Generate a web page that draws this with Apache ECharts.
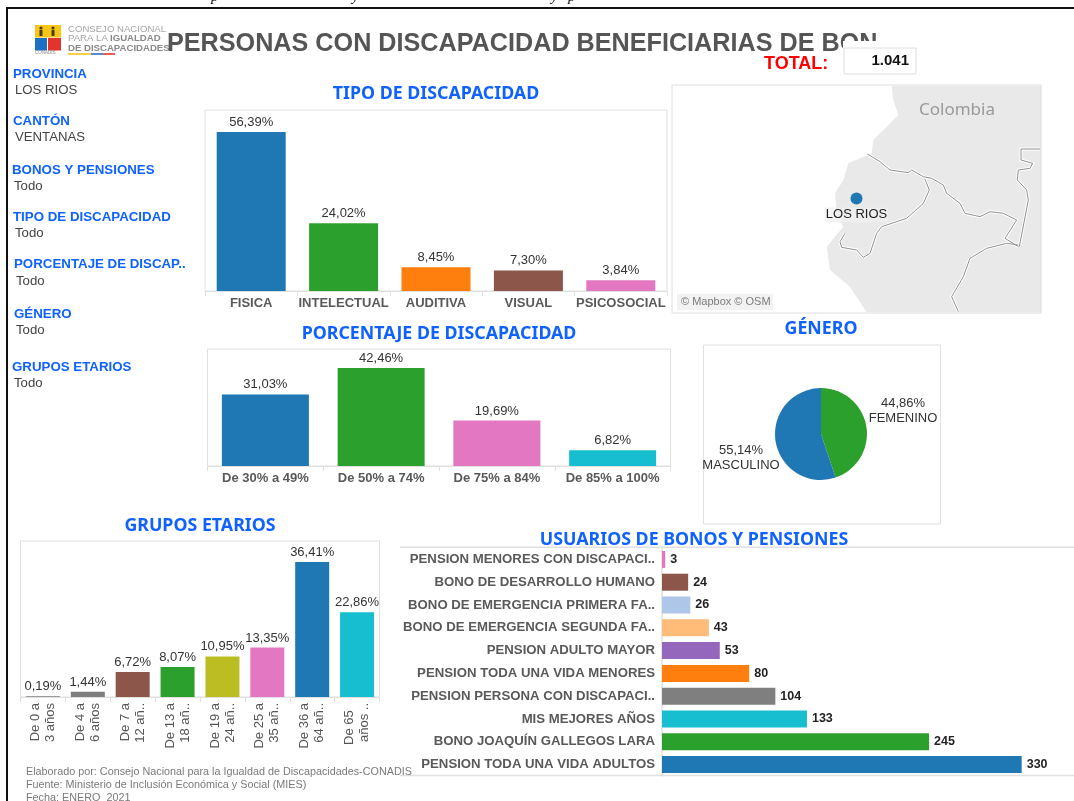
<!DOCTYPE html>
<html>
<head>
<meta charset="utf-8">
<style>html,body{margin:0;padding:0;background:#fff}#c{width:1074px;height:801px}</style>
<script src="https://cdn.jsdelivr.net/npm/echarts@6/dist/echarts.min.js"></script>
</head>
<body>
<div id="c"></div>
<script>
// ---------- data ----------
const tipoCategories = ['FISICA','INTELECTUAL','AUDITIVA','VISUAL','PSICOSOCIAL'];
const tipoValues = [56.39,24.02,8.45,7.30,3.84];
const porcentajeCategories = ['De 30% a 49%','De 50% a 74%','De 75% a 84%','De 85% a 100%'];
const porcentajeValues = [31.03,42.46,19.69,6.82];
const etariosCategories = ['De 0 a|3 años','De 4 a|6 años','De 7 a|12 añ..','De 13 a|18 añ..','De 19 a|24 añ..','De 25 a|35 añ..','De 36 a|64 añ..','De 65|años ..'];
const etariosValues = [0.19,1.44,6.72,8.07,10.95,13.35,36.41,22.86];
const bonosCategories = ['PENSION MENORES CON DISCAPACI..','BONO DE DESARROLLO HUMANO','BONO DE EMERGENCIA PRIMERA FA..','BONO DE EMERGENCIA SEGUNDA FA..','PENSION ADULTO MAYOR','PENSION TODA UNA VIDA MENORES','PENSION PERSONA CON DISCAPACI..','MIS MEJORES AÑOS','BONO JOAQUÍN GALLEGOS LARA','PENSION TODA UNA VIDA ADULTOS'];
const bonosValues = [3,24,26,43,53,80,104,133,245,330];
const generoNames = ['FEMENINO','MASCULINO'];
const generoValues = [44.86,55.14];
const mapPointName = 'LOS RIOS';
const mapPointLonLat = [-79.4,-1.6];
const filterTitles = ['PROVINCIA','CANTÓN','BONOS Y PENSIONES','TIPO DE DISCAPACIDAD','PORCENTAJE DE DISCAP..','GÉNERO','GRUPOS ETARIOS'];
const filterValues = ['LOS RIOS','VENTANAS','Todo','Todo','Todo','Todo','Todo'];
const totalLabel = '1.041';

// ---------- styles ----------
const BLUE='#1f77b4',GREEN='#2ca02c',ORANGE='#ff7f0e',BROWN='#8c564b',PINK='#e377c2',CYAN='#17becf',OLIVE='#bcbd22',GRAY='#7f7f7f',LBLUE='#aec7e8',LORANGE='#ffbb78',PURPLE='#9467bd';
const tipoColors=[BLUE,GREEN,ORANGE,BROWN,PINK];
const porcentajeColors=[BLUE,GREEN,PINK,CYAN];
const etariosColors=[GRAY,GRAY,BROWN,GREEN,OLIVE,PINK,BLUE,CYAN];
const bonosColors=[PINK,BROWN,LBLUE,LORANGE,PURPLE,ORANGE,GRAY,CYAN,GREEN,BLUE];
const generoColors=[GREEN,BLUE];
const SANS='"Liberation Sans",Arial,sans-serif';
const HEAD='"Noto Sans",sans-serif';
const TITLEBLUE='#0f62fe';
const LINE='#e0e0e0';
const pct=v=>v.toFixed(2).replace('.',',')+'%';

const grids=[
 {left:205,top:110,width:462,height:181,show:true,borderColor:LINE,borderWidth:1,backgroundColor:'transparent'},
 {left:207.5,top:349,width:463,height:117,show:true,borderColor:LINE,borderWidth:1},
 {left:20.5,top:541,width:359,height:156,show:true,borderColor:LINE,borderWidth:1},
 {left:662,top:548,width:412,height:228},
 {left:672,top:85,width:369,height:228}
];
function vbar(i,cats,vals,cols,max,barW,axisLabel){
 return {
  x:{type:'category',gridIndex:i,data:cats,axisLine:{lineStyle:{color:LINE}},axisTick:{show:true,length:5,lineStyle:{color:LINE}},axisLabel:Object.assign({interval:0,fontFamily:SANS},axisLabel)},
  y:{type:'value',gridIndex:i,min:0,max:max,show:false},
  s:{type:'bar',xAxisIndex:i,yAxisIndex:i,barWidth:barW,data:vals.map((v,k)=>({value:v,itemStyle:{color:cols[k]}})),
     label:{show:true,position:'top',distance:3,fontFamily:SANS,fontSize:13,color:'#333',formatter:p=>pct(p.value)},silent:true}
 };
}
const c1=vbar(0,tipoCategories,tipoValues,tipoColors,64.2,69,{fontSize:13,fontWeight:'bold',color:'#595959',margin:6});
const c2=vbar(1,porcentajeCategories,porcentajeValues,porcentajeColors,50.7,87,{fontSize:13,fontWeight:'bold',color:'#595959',margin:6});
const c3=vbar(2,etariosCategories,etariosValues,etariosColors,42.05,34,{fontSize:13,color:'#555',rotate:90,margin:6,lineHeight:15,
  formatter:s=>{const a=s.split('|');return (a[0]==='De 65'?a[0]+'\u00a0\u00a0':a[0])+'\n'+a[1];}});

const titles=[
 ['TIPO DE DISCAPACIDAD',436,93.5],['PORCENTAJE DE DISCAPACIDAD',439,333.5],['GÉNERO',821,328.5],['GRUPOS ETARIOS',200,525.5],['USUARIOS DE BONOS Y PENSIONES',694,539.5]
].map(t=>({text:t[0],left:t[1],top:t[2]-12,padding:0,textAlign:'center',textStyle:{fontFamily:HEAD,fontSize:17.8,fontWeight:'bold',color:TITLEBLUE,lineHeight:24}}));

const txt=(x,y,text,o)=>({type:'text',x:x,y:y,silent:true,style:Object.assign({text:text,fontFamily:SANS,fontSize:13,fill:'#444',textVerticalAlign:'middle',verticalAlign:'middle'},o||{})});
const rect=(x,y,w,h,fill,stroke)=>({type:'rect',silent:true,shape:{x:x,y:y,width:w,height:h},style:{fill:fill||'none',stroke:stroke||null,lineWidth:1}});
const line=(x1,y1,x2,y2,c,w)=>({type:'line',silent:true,shape:{x1:x1,y1:y1,x2:x2,y2:y2},style:{stroke:c,lineWidth:w}});
// map artwork (background only), traced in zoomed reference pixels
const mp=a=>a.map(p=>[660+p[0]/3,p[1]/3]);
const land=mp([[695,258],[700,300],[715,345],[680,380],[640,420],[635,460],[565,490],[550,540],[525,580],[530,640],[550,680],[500,740],[510,810],[570,860],[620,937],[1143,937],[1143,258]]);
const borders=[
 [[622,462],[660,485],[690,510],[745,518],[755,510],[790,530],[815,535],[850,555],[860,580],[900,610],[915,640],[960,650],[990,635],[1030,640],[1070,660],[1035,715],[1075,740]],
 [[795,538],[808,570],[790,610],[740,655],[665,680],[650,700],[630,760],[610,772],[590,750],[545,742],[540,725],[555,700]],
 [[1141,447],[1083,447],[1083,480],[1118,490],[1110,505],[1075,510],[1072,540],[1100,570],[1105,600],[1078,740]],
 [[1075,735],[1040,730],[980,745],[930,775],[910,830],[875,890],[895,935]]
].map(mp);
const filterY=[[13,74,15,90],[13,121,15,137],[12,170,14,186],[13,217,15,233],[14,264,16,281],[14,314,16,330],[12,367,14,383]];
const filters=[];
filterTitles.forEach((t,i)=>{const p=filterY[i];
 filters.push(txt(p[0],p[1],t,{fontWeight:'bold',fontSize:13.3,fill:TITLEBLUE}));
 filters.push(txt(p[2],p[3],filterValues[i],{fontSize:13.2,fill:'#444'}));
});
const person=(x)=>[{type:'circle',silent:true,shape:{cx:x,cy:28,r:1.6},style:{fill:'#4a3b10'}},rect(x-1.5,30,3,6,'#4a3b10')];
const graphics=[
 // map
 {type:'polygon',silent:true,z:-2,shape:{points:land},style:{fill:'#e9e9e9'}},
 ...borders.map(b=>({type:'polyline',silent:true,z:-2,shape:{points:b},style:{stroke:'#fff',lineWidth:3,fill:null}})),
 ...borders.map(b=>({type:'polyline',silent:true,z:-2,shape:{points:b},style:{stroke:'#909090',lineWidth:1,fill:null}})),
 Object.assign(rect(672,85,369,228,null,'#dedede'),{z:-1}),
 txt(957,110,'Colombia',{fontFamily:HEAD,fontSize:17,fill:'#9a9a9a',textAlign:'center',align:'center'}),
 rect(677,294,96,16,'#f2f2f2'),
 txt(681,302,'© Mapbox © OSM',{fontSize:11,fill:'#7a7a7a'}),
 // frame
 line(6,8,1074,8,'#111',2),line(7,8,7,801,'#111',2),
 // clipped caption remnants above the frame
 ...[[211,'p'],[352,'y'],[551,'y'],[568,'p']].map(a=>txt(a[0],-3,a[1],{fontFamily:'"Liberation Serif",serif',fontStyle:'italic',fontSize:15,fill:'#111'})),
 // logo
 rect(35,25,26,12.5,'#f5c518'),rect(35,38,12,12.5,'#1d6fc4'),rect(48,38,13,12.5,'#e2332d'),
 ...person(41),...person(53),
 txt(35,53,'CONADIS',{fontSize:4.5,fill:'#888'}),
 txt(68,29.5,'CONSEJO NACIONAL',{fontSize:9.6,fill:'#a5a5a5'}),
 txt(68,38.5,'PARA LA',{fontSize:9.6,fill:'#a5a5a5'}),
 txt(110,38.5,'IGUALDAD',{fontSize:9.6,fontWeight:'bold',fill:'#8a8a8a'}),
 txt(68,48,'DE DISCAPACIDADES',{fontSize:9.6,fontWeight:'bold',fill:'#8a8a8a'}),
 line(68,54,91,54,'#f5c518',1.6),line(91,54,103,54,'#2a6fc4',1.6),line(103,54,115,54,'#e2332d',1.6),
 // header
 txt(167,44,'PERSONAS CON DISCAPACIDAD BENEFICIARIAS DE BON',{fontSize:25.2,fontWeight:'bold',fill:'#555'}),
 rect(843,41,40,8,'#fff'),
 txt(764,64.5,'TOTAL:',{fontSize:18,fontWeight:'bold',fill:'#ff0000'}),
 rect(844,48,72,26,'#fff','#dedede'),
 txt(909,61,totalLabel,{fontSize:15,fontWeight:'bold',fill:'#111',textAlign:'right',align:'right'}),
 // filters
 ...filters,
 // panels
 rect(703.5,345,237,179,null,LINE),
 line(400,547.3,1074,547.3,LINE,1.5),line(400,775.5,1074,775.5,LINE,1.5),
 // footer
 txt(26,772,'Elaborado por: Consejo Nacional para la Igualdad de Discapacidades-CONADIS',{fontSize:10.8,fill:'#7a7a7a'}),
 txt(26,785,'Fuente: Ministerio de Inclusión Económica y Social (MIES)',{fontSize:10.8,fill:'#7a7a7a'}),
 txt(26,798,'Fecha: ENERO  2021',{fontSize:10.8,fill:'#7a7a7a'})
];

const generoLabelPos=[[903,411],[741,458]];
const option={
 animation:false,
 backgroundColor:'#fff',
 title:titles,
 grid:grids,
 xAxis:[c1.x,c2.x,c3.x,
  {type:'value',gridIndex:3,min:0,max:378,show:false},
  {type:'value',gridIndex:4,min:-85.4,max:-73.4,show:false}],
 yAxis:[c1.y,c2.y,c3.y,
  {type:'category',gridIndex:3,inverse:true,data:bonosCategories,axisTick:{show:false},axisLine:{lineStyle:{color:LINE,width:1.5}},
   axisLabel:{interval:0,margin:7,fontFamily:SANS,fontSize:13.2,fontWeight:'bold',color:'#595959'}},
  {type:'value',gridIndex:4,min:-5.32,max:2.08,show:false}],
 series:[c1.s,c2.s,c3.s,
  {type:'bar',xAxisIndex:3,yAxisIndex:3,barWidth:17,silent:true,
   data:bonosValues.map((v,k)=>({value:v,itemStyle:{color:bonosColors[k]}})),
   label:{show:true,position:'right',distance:5,fontFamily:SANS,fontSize:12.5,fontWeight:'bold',color:'#222'}},
  {type:'scatter',xAxisIndex:4,yAxisIndex:4,silent:true,symbolSize:12,itemStyle:{color:BLUE,opacity:1},
   data:[{name:mapPointName,value:mapPointLonLat}],
   label:{show:true,position:'bottom',distance:3,formatter:'{b}',fontFamily:SANS,fontSize:13,color:'#222',backgroundColor:'rgba(240,240,240,0.7)',padding:[1,1]}},
  {type:'pie',center:[821,434],radius:46,startAngle:90,clockwise:true,silent:true,
   data:generoNames.map((n,k)=>({name:n,value:generoValues[k],itemStyle:{color:generoColors[k]}})),
   label:{show:true,position:'outside',formatter:p=>pct(p.value)+'\n'+p.name,fontFamily:SANS,fontSize:13,lineHeight:15,color:'#333',align:'center'},
   labelLine:{show:false},
   labelLayout:p=>({x:generoLabelPos[p.dataIndex][0],y:generoLabelPos[p.dataIndex][1],align:'center',verticalAlign:'middle',hideOverlap:false})}
 ],
 graphic:graphics
};
const chart=echarts.init(document.getElementById('c'),null,{renderer:'canvas'});
chart.setOption(option);
</script>
</body>
</html>
